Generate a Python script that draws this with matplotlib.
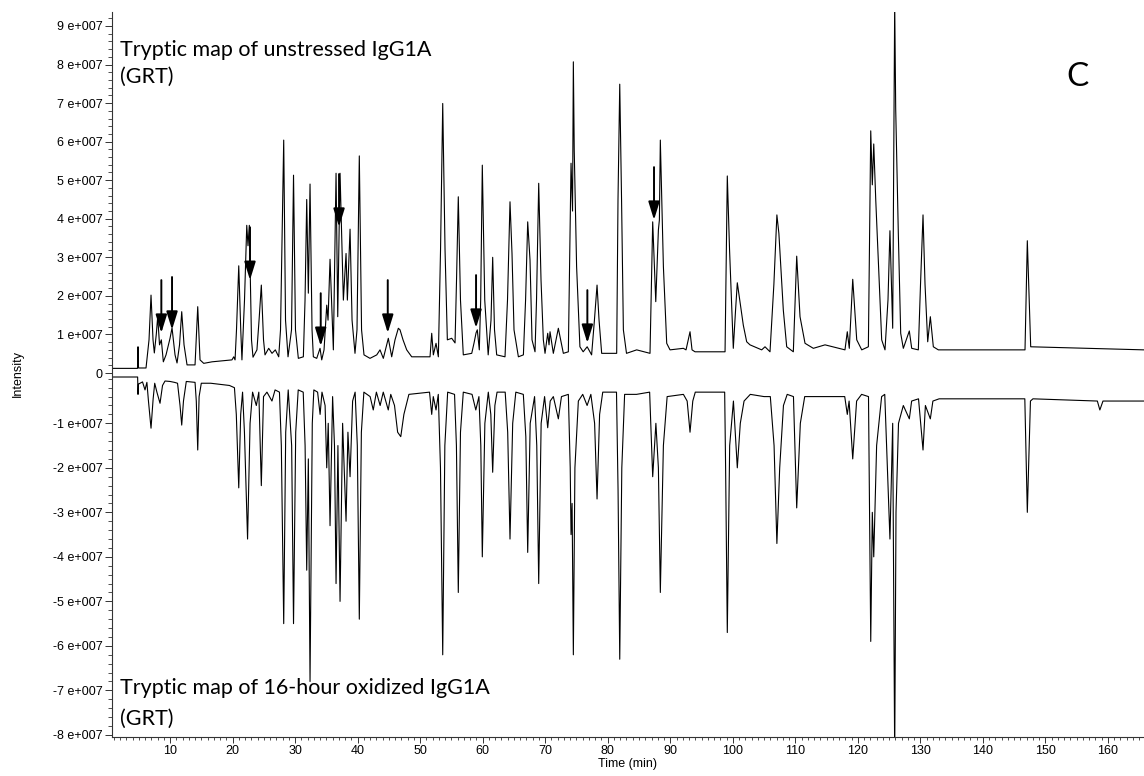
import numpy as np
import matplotlib
matplotlib.use("Agg")
import matplotlib.pyplot as plt
from matplotlib.ticker import MultipleLocator, FixedLocator, FuncFormatter

plt.rcParams["font.family"] = ["Liberation Sans", "DejaVu Sans"]

SCALE = 1e7  # intensities below are in units of 1e7

# upper trace: tryptic map of unstressed IgG1A (time in min, intensity / 1e7)
top_time = [
    0.72, 4.80, 4.88, 4.96, 6.16, 6.64, 6.96, 7.28, 7.49, 7.80, 8.03, 8.32, 8.61, 8.93, 9.36,
    10.0, 10.32, 10.8, 11.12, 11.52, 11.87, 12.24, 12.72, 14.0, 14.43, 14.8, 15.39, 16.72,
    19.9, 20.19, 20.4, 20.63, 20.99, 21.31, 21.5, 21.91, 22.27, 22.47, 22.68, 23.03, 23.27,
    23.9, 24.25, 24.6, 24.95, 25.19, 25.78, 26.31, 26.84, 27.38, 27.67, 28.18, 28.47, 28.87,
    29.43, 29.75, 30.06, 30.52, 31.32, 31.59, 31.86, 32.12, 32.39, 32.71, 32.92, 33.46, 33.99,
    34.26, 34.63, 35.06, 35.27, 35.59, 36.12, 36.55, 36.82, 37.19, 37.72, 38.15, 38.36, 38.79,
    39.11, 39.58, 39.9, 40.27, 40.63, 41.02, 41.98, 43.06, 43.58, 44.11, 44.91, 45.45, 45.98,
    46.51, 46.78, 47.26, 47.85, 48.65, 51.58, 51.85, 52.11, 52.54, 52.91, 53.26, 53.61, 53.98,
    54.35, 55.05, 55.58, 55.83, 56.1, 56.45, 56.9, 58.25, 58.62, 58.94, 59.14, 59.46, 59.68,
    59.94, 60.33, 60.88, 61.33, 61.6, 61.89, 62.24, 63.57, 63.97, 64.37, 64.69, 65.01, 65.71,
    66.51, 66.86, 67.2, 67.57, 67.89, 68.37, 68.61, 68.96, 69.33, 69.7, 69.97, 70.4, 70.61,
    70.77, 71.3, 72.1, 72.9, 73.7, 73.97, 74.13, 74.37, 74.5, 74.64, 75.02, 75.55, 76.07,
    76.71, 77.42, 77.87, 78.29, 78.61, 79.03, 81.43, 81.64, 81.92, 82.21, 82.5, 83.0, 84.63,
    86.76, 87.19, 87.68, 88.1, 88.26, 88.41, 88.9, 89.43, 89.96, 92.09, 92.52, 93.16, 93.48,
    93.96, 98.76, 99.12, 99.48, 100.08, 100.43, 100.72, 101.15, 101.68, 102.22, 102.75,
    104.62, 105.15, 105.95, 106.57, 107.05, 107.37, 108.08, 108.62, 109.68, 109.95, 110.22,
    110.75, 111.55, 112.88, 114.75, 117.94, 118.31, 118.63, 119.18, 119.82, 120.62, 121.68,
    122.06, 122.31, 122.54, 122.86, 123.27, 123.81, 124.34, 124.82, 125.13, 125.57, 125.89,
    126.05, 126.47, 126.85, 127.27, 128.23, 128.61, 129.67, 130.02, 130.42, 130.74, 131.17,
    131.59, 132.07, 132.87, 146.73, 147.1, 147.64, 165.76,
]
top_int = [
    0.12, 0.12, 0.68, 0.13, 0.13, 0.86, 2.02, 0.86, 0.52, 1.0, 1.46, 0.73, 0.86, 0.29, 0.47,
    0.9, 1.17, 0.47, 0.26, 0.73, 1.59, 0.73, 0.21, 0.21, 1.72, 0.34, 0.25, 0.29,
    0.34, 0.42, 0.34, 1.12, 2.78, 1.12, 0.34, 1.89, 3.83, 3.3, 3.83, 0.86, 0.41,
    0.6, 1.4, 2.28, 0.86, 0.47, 0.64, 0.51, 0.6, 0.42, 1.12, 6.04, 1.37, 0.42,
    1.12, 5.13, 1.12, 0.38, 0.42, 1.89, 4.5, 2.07, 4.9, 1.12, 0.42, 0.38, 0.64,
    0.34, 0.6, 1.76, 1.37, 2.95, 0.6, 5.18, 1.46, 5.18, 1.89, 3.1, 1.89, 3.73,
    1.37, 0.51, 1.12, 5.63, 1.12, 0.47, 0.38, 0.47, 0.6, 0.38, 0.9, 0.42, 0.86,
    1.16, 1.12, 0.86, 0.6, 0.42, 0.42, 1.03, 0.47, 0.77, 0.42, 3.19, 6.99, 3.19,
    0.86, 0.9, 0.78, 2.5, 4.57, 1.89, 0.47, 0.51, 0.78, 1.04, 1.12, 0.6, 1.89,
    5.39, 1.89, 0.47, 1.37, 3.0, 1.12, 0.47, 0.42, 1.89, 4.44, 3.1, 1.12, 0.42,
    0.47, 1.89, 3.92, 2.93, 0.86, 0.55, 1.89, 4.92, 2.41, 0.86, 0.51, 1.03, 0.73,
    1.07, 0.51, 1.16, 0.51, 0.55, 3.73, 5.44, 4.2, 8.07, 5.78, 2.76, 0.68, 0.55,
    0.68, 0.47, 1.37, 2.28, 1.37, 0.51, 0.51, 4.49, 7.49, 4.49, 1.12, 0.51, 0.6,
    0.51, 3.92, 1.85, 3.71, 3.97, 6.04, 2.76, 0.77, 0.6, 0.64, 0.6, 1.07, 0.6,
    0.55, 0.55, 5.11, 3.2, 0.64, 1.6, 2.34, 1.85, 1.24, 0.81, 0.73,
    0.6, 0.68, 0.55, 2.3, 4.1, 3.62, 1.63, 0.68, 0.55, 1.8, 3.03,
    1.46, 0.77, 0.64, 0.73, 0.6, 1.07, 0.64, 2.43, 0.86, 0.6, 0.68,
    6.28, 4.88, 5.94, 4.49, 2.93, 0.86, 0.6, 1.9, 3.69, 1.16, 9.6,
    6.86, 3.62, 1.03, 0.64, 1.09, 0.64, 0.6, 2.3, 4.1, 2.3, 0.81,
    1.46, 0.68, 0.6, 0.6, 3.43, 0.68, 0.6,
]

# lower trace: tryptic map of 16-hour oxidized IgG1A
bottom_time = [
    0.72, 4.82, 4.88, 4.95, 5.6, 6.0, 6.3, 6.55, 6.96, 7.3, 7.55, 7.9, 8.4, 8.8, 9.2, 10.0,
    10.7, 11.2, 11.6, 11.87, 12.15, 12.6, 14.0, 14.2, 14.43, 14.65, 15.0, 16.5, 19.5, 20.3,
    20.6, 20.99, 21.3, 21.6, 21.9, 22.4, 22.8, 23.2, 23.8, 24.2, 24.6, 24.95, 25.5, 26.3,
    26.8, 27.5, 27.8, 28.18, 28.5, 28.9, 29.45, 29.75, 30.1, 30.5, 31.3, 31.6, 31.86, 32.12,
    32.39, 32.75, 33.0, 33.6, 34.0, 34.3, 34.8, 35.06, 35.3, 35.59, 36.0, 36.3, 36.55, 36.85,
    37.19, 37.6, 38.15, 38.45, 38.79, 39.2, 39.6, 39.95, 40.27, 40.6, 41.0, 42.0, 42.5, 43.0,
    43.6, 44.1, 44.9, 45.3, 45.9, 46.4, 46.9, 47.4, 48.2, 51.5, 51.85, 52.1, 52.54, 52.9,
    53.25, 53.61, 53.95, 54.4, 55.5, 55.8, 56.1, 56.45, 56.9, 58.3, 58.9, 59.4, 59.7, 59.94,
    60.35, 60.9, 61.3, 61.6, 61.95, 62.3, 63.6, 64.0, 64.37, 64.8, 65.3, 66.5, 66.9, 67.2,
    67.6, 68.3, 68.65, 68.96, 69.35, 69.9, 70.4, 70.8, 71.3, 72.1, 72.6, 73.7, 74.0, 74.13,
    74.3, 74.5, 74.75, 75.3, 76.0, 76.7, 77.3, 77.9, 78.29, 78.7, 79.2, 81.4, 81.65, 81.92,
    82.25, 82.7, 84.6, 86.7, 87.19, 87.7, 88.1, 88.41, 88.9, 89.5, 92.1, 92.7, 93.16, 93.6,
    94.0, 98.7, 98.85, 99.12, 99.5, 100.1, 100.72, 101.2, 101.8, 102.8, 105.0, 106.0, 106.6,
    107.05, 107.5, 108.1, 108.7, 109.7, 110.22, 110.8, 111.5, 117.9, 118.31, 118.6, 119.18,
    119.8, 120.6, 121.7, 122.06, 122.31, 122.54, 123.0, 123.8, 124.3, 125.13, 125.57, 125.89,
    126.1, 126.5, 127.27, 128.23, 128.6, 129.7, 130.42, 130.8, 131.59, 132.0, 133.0, 146.7,
    147.1, 147.6, 148.0, 158.3, 158.7, 159.2, 165.76,
]
bottom_int = [
    0.04, 0.04, -0.35, -0.12, -0.07, -0.25, -0.08, -0.5, -1.11, -0.45, -0.1, -0.3, -0.55, -0.15, -0.05, -0.06,
    -0.08, -0.1, -0.6, -1.04, -0.5, -0.06, -0.08, -0.5, -1.6, -0.4, -0.1, -0.1, -0.15, -0.2,
    -0.8, -2.45, -0.8, -0.3, -1.2, -3.6, -1.0, -0.3, -0.6, -0.3, -2.4, -0.4, -0.3, -0.5,
    -0.25, -0.3, -1.5, -5.5, -1.2, -0.25, -1.5, -5.5, -1.2, -0.25, -0.3, -1.5, -4.3, -1.8,
    -6.8, -1.0, -0.25, -0.3, -0.8, -0.3, -0.6, -2.0, -1.0, -3.3, -0.4, -1.5, -4.6, -1.5,
    -5.0, -1.0, -3.2, -1.2, -2.2, -0.5, -0.3, -1.5, -5.4, -1.2, -0.3, -0.4, -0.7, -0.3,
    -0.6, -0.3, -0.7, -0.35, -0.6, -1.2, -1.3, -0.8, -0.35, -0.3, -0.8, -0.4, -0.7, -0.35,
    -2.0, -6.2, -1.5, -0.3, -0.35, -1.5, -4.8, -1.2, -0.3, -0.35, -0.7, -0.4, -1.5, -4.0,
    -1.0, -0.3, -0.8, -2.1, -0.6, -0.3, -0.3, -1.2, -3.6, -1.0, -0.3, -0.35, -1.3, -3.9,
    -1.0, -0.4, -1.5, -4.6, -1.0, -0.4, -1.1, -0.5, -0.4, -0.9, -0.4, -0.35, -2.0, -3.5,
    -2.8, -6.2, -2.0, -0.5, -0.35, -0.6, -0.35, -1.0, -2.7, -0.8, -0.3, -0.3, -2.5, -6.3,
    -2.0, -0.35, -0.35, -0.3, -2.2, -1.0, -2.0, -4.8, -1.5, -0.4, -0.35, -0.5, -1.2, -0.5,
    -0.3, -0.3, -2.0, -5.7, -1.5, -0.5, -2.0, -1.0, -0.5, -0.35, -0.4, -0.4, -1.5,
    -3.7, -2.0, -0.6, -0.35, -0.4, -2.9, -1.0, -0.4, -0.4, -0.8, -0.5, -1.8,
    -0.5, -0.35, -0.4, -5.9, -3.0, -4.0, -1.5, -0.4, -0.35, -3.6, -1.0, -8.5,
    -3.0, -1.0, -0.6, -0.9, -0.5, -0.45, -1.6, -0.6, -0.9, -0.5, -0.45, -0.45,
    -3.0, -0.5, -0.45, -0.5, -0.7, -0.5, -0.5,
]

# arrows marking peaks in the upper trace (time, intensity at arrow tip / 1e7)
arrow_time = [8.61, 10.32, 22.79, 34.1, 37.03, 44.82, 58.94, 76.74, 87.40]
arrow_tip = [1.04, 1.12, 2.41, 0.70, 3.79, 1.04, 1.17, 0.78, 3.97]

x_ticks = list(range(10, 161, 10))
top_yticks = [i * SCALE for i in range(0, 10)]
bottom_yticks = [-i * SCALE for i in range(1, 9)]

fig = plt.figure(figsize=(11.44, 7.76), dpi=100)
W, H = 1144, 776
left, right = 112 / W, 1.0
ax_top = fig.add_axes([left, 1 - 373 / H, right - left, (373 - 12) / H])
ax_bot = fig.add_axes([left, 1 - 736.7 / H, right - left, (736.7 - 373) / H], sharex=ax_top)

ax_top.plot(top_time, np.array(top_int) * SCALE, color="black", lw=0.8)
ax_bot.plot(bottom_time, np.array(bottom_int) * SCALE, color="black", lw=0.8)

ax_top.set_xlim(0.72, 165.76)
ax_top.set_ylim(0, 9.362 * SCALE)
ax_bot.set_ylim(-8.04 * SCALE, 0.13 * SCALE)


def intensity_label(v, pos):
    if abs(v) < 1:
        return "0"
    return f"{v / SCALE:.0f} e+007"


for ax in (ax_top, ax_bot):
    for s in ("top", "right"):
        ax.spines[s].set_visible(False)
    ax.spines["left"].set_linewidth(0.8)
    ax.spines["left"].set_color("#333333")
    ax.yaxis.set_major_formatter(FuncFormatter(intensity_label))
    ax.yaxis.set_minor_locator(MultipleLocator(0.2 * SCALE))
    ax.tick_params(axis="y", which="major", direction="out", length=5, width=0.7,
                   labelsize=9, pad=2, colors="#333333", labelcolor="black")
    ax.tick_params(axis="y", which="minor", direction="out", length=3, width=0.6,
                   colors="#333333")

ax_top.spines["bottom"].set_visible(False)
ax_top.yaxis.set_major_locator(FixedLocator(top_yticks))
ax_top.tick_params(axis="x", which="both", bottom=False, labelbottom=False)

ax_bot.yaxis.set_major_locator(FixedLocator(bottom_yticks))
ax_bot.spines["bottom"].set_linewidth(0.8)
ax_bot.spines["bottom"].set_color("#333333")
ax_bot.xaxis.set_major_locator(FixedLocator(x_ticks))
ax_bot.xaxis.set_minor_locator(MultipleLocator(1))
ax_bot.tick_params(axis="x", which="major", direction="out", length=4, width=0.7,
                   labelsize=9, pad=2, colors="#333333", labelcolor="black")
ax_bot.tick_params(axis="x", which="minor", direction="out", length=2, width=0.6,
                   colors="#333333")
ax_bot.set_xlabel("Time (min)", fontsize=9, labelpad=1)

fig.text(18 / W, 1 - 373 / H, "Intensity", rotation=90, ha="center", va="center", fontsize=9)

for t, tip in zip(arrow_time, arrow_tip):
    ax_top.annotate("", xy=(t, tip * SCALE), xytext=(0, 38), textcoords="offset points",
                    arrowprops=dict(arrowstyle="-|>,head_length=1.1,head_width=0.34",
                                    color="black", lw=1.4, shrinkA=0, shrinkB=0,
                                    mutation_scale=10))

label_font = ["Lato", "DejaVu Sans"]
fig.text(120 / W, 1 - 50 / H, "Tryptic map of unstressed IgG1A", fontsize=15.5,
         family=label_font, va="center", ha="left")
fig.text(120 / W, 1 - 77 / H, "(GRT)", fontsize=15.5, family=label_font, va="center", ha="left")
fig.text(120 / W, 1 - 688 / H, "Tryptic map of 16-hour oxidized IgG1A", fontsize=15.5,
         family=label_font, va="center", ha="left")
fig.text(120 / W, 1 - 719 / H, "(GRT)", fontsize=15.5, family=label_font, va="center", ha="left")
fig.text(1077 / W, 1 - 77 / H, "C", fontsize=24, family=label_font, va="center", ha="center")

fig.savefig("out.png", dpi=100)
